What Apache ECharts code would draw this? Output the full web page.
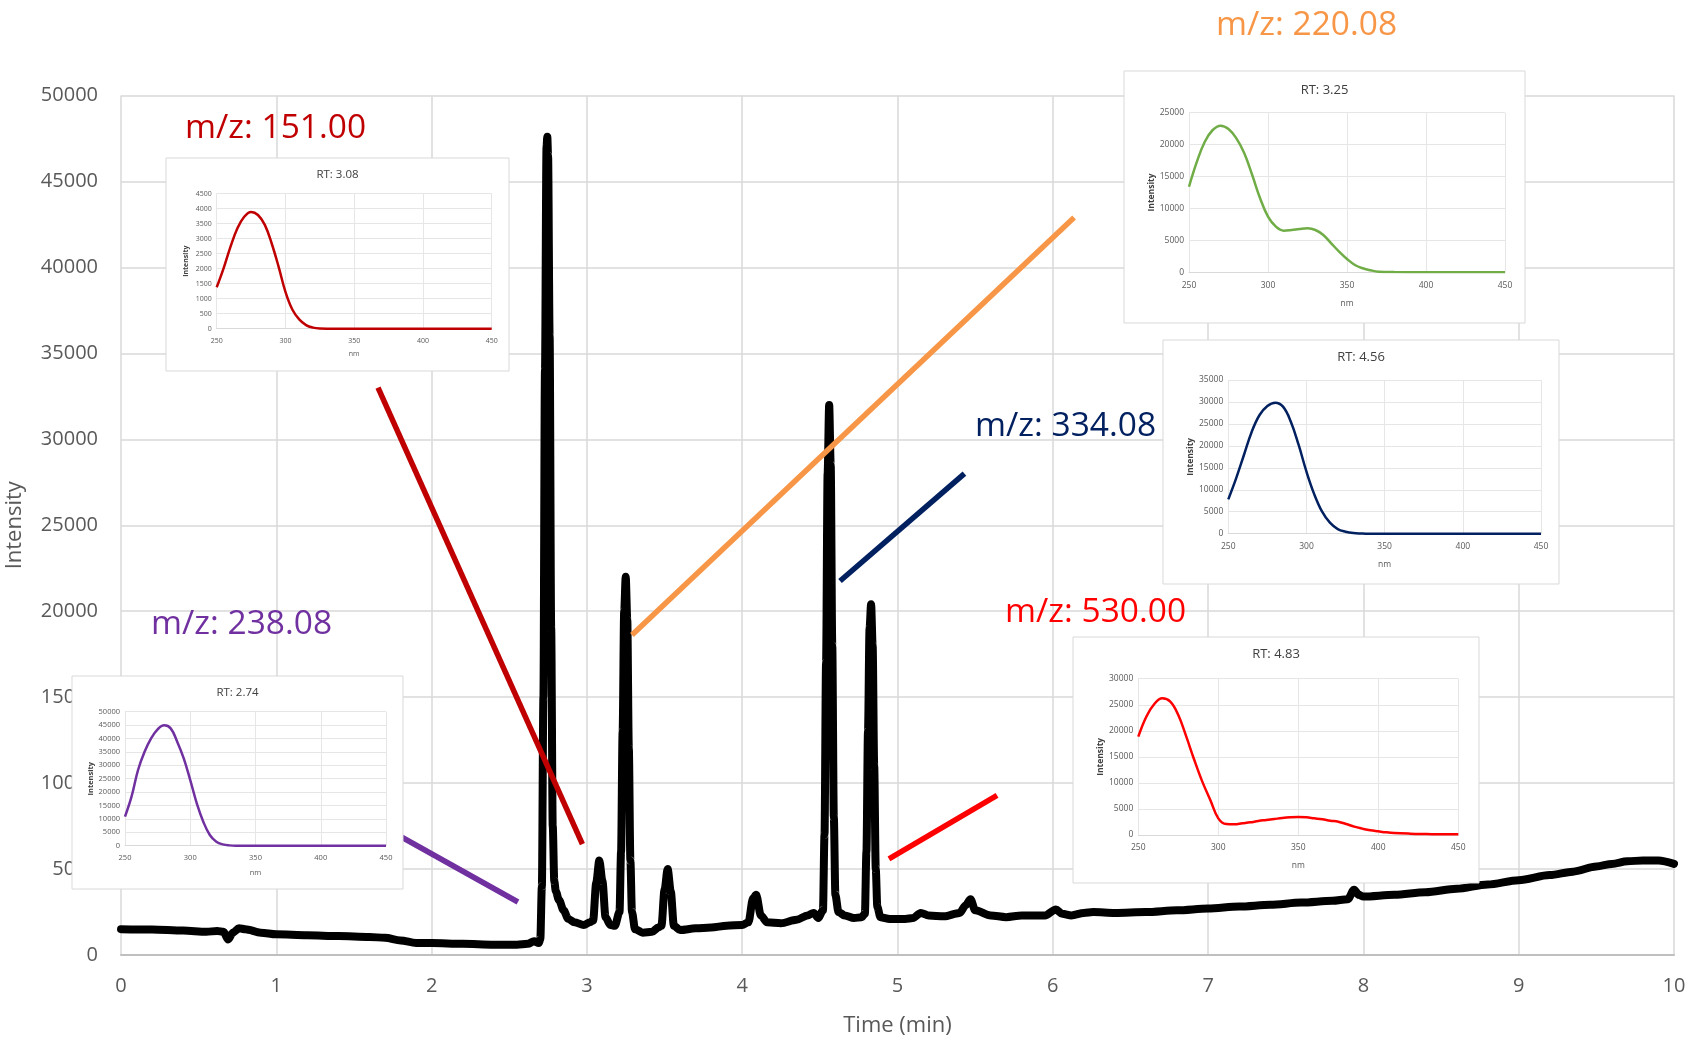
<!DOCTYPE html>
<html>
<head>
<meta charset="utf-8">
<title>LC chromatogram with UV spectra</title>
<script src="https://cdn.jsdelivr.net/npm/echarts@6/dist/echarts.min.js"></script>
<style>
  html, body { margin: 0; padding: 0; background: #ffffff; }
  #chart { width: 1688px; height: 1042px; }
</style>
</head>
<body>
<div id="chart"></div>
<script>
// ---- Chromatogram (total signal vs retention time) ----
const timeMin = [
  0, 0.2, 0.4, 0.55, 0.62, 0.66, 0.69, 0.72, 0.76, 0.8, 0.9, 1.0, 1.2, 1.4, 1.6, 1.7, 1.8, 1.9, 2.0, 2.2, 2.4, 2.55, 2.62, 2.66, 2.69,
  2.70, 2.71, 2.72, 2.73, 2.74, 2.745, 2.75, 2.76, 2.77, 2.78, 2.79, 2.80, 2.82, 2.85, 2.88, 2.92, 2.98, 3.02,
  3.04, 3.06, 3.08, 3.10, 3.12, 3.15, 3.18, 3.21, 3.22, 3.23, 3.24, 3.25, 3.26, 3.27, 3.28, 3.29, 3.31, 3.36, 3.42, 3.46,
  3.48, 3.50, 3.52, 3.54, 3.56, 3.60,
  3.7, 3.8, 3.9, 4.0, 4.04, 4.07, 4.09, 4.12, 4.16, 4.25, 4.35, 4.42, 4.46, 4.49, 4.52, 4.53, 4.54, 4.55, 4.56, 4.57, 4.58, 4.59, 4.60, 4.62, 4.66,
  4.72, 4.77, 4.79, 4.80, 4.81, 4.82, 4.83, 4.84, 4.85, 4.86, 4.87, 4.89, 4.95, 5.05, 5.1, 5.15, 5.2, 5.3, 5.4, 5.44, 5.47, 5.5, 5.6, 5.7, 5.8, 5.95,
  6.02, 6.06, 6.12, 6.2, 6.26, 6.4, 6.6, 6.8, 7.0, 7.2, 7.4, 7.6, 7.8, 7.9, 7.94, 7.97, 8.0, 8.2, 8.4, 8.6, 8.8,
  9.0, 9.2, 9.35, 9.5, 9.6, 9.7, 9.8, 9.9, 10.0
];
const signal = [
  1500, 1480, 1420, 1350, 1400, 1350, 900, 1300, 1550, 1500, 1300, 1200, 1150, 1100, 1050, 1000, 850, 700, 700, 650, 600, 600, 650, 800, 700,
  900, 4000, 15000, 34000, 47000, 47600, 46500, 36000, 19000, 7500, 4300, 3700, 3200, 2600, 2100, 1900, 1750, 1900,
  2000, 4200, 5500, 4300, 2200, 1750, 1700, 2500, 6000, 13000, 20000, 22000, 19500, 12000, 5500, 2500, 1500, 1300, 1350, 1600,
  1700, 3800, 5000, 3700, 1700, 1450,
  1550, 1600, 1700, 1750, 1900, 3300, 3500, 2300, 1900, 1850, 2050, 2300, 2450, 2150, 2600, 7000, 17000, 28000, 32000, 28500, 18000, 8000, 3500, 2500, 2300,
  2150, 2200, 2400, 6000, 13000, 19000, 20400, 18000, 11000, 5000, 2800, 2200, 2100, 2100, 2150, 2450, 2300, 2250, 2450, 2900, 3250, 2600, 2300, 2200, 2300, 2300,
  2650, 2400, 2300, 2450, 2500, 2450, 2500, 2600, 2700, 2820, 2920, 3050, 3150, 3250, 3800, 3500, 3400, 3500, 3650, 3850, 4100,
  4350, 4650, 4850, 5150, 5300, 5450, 5500, 5500, 5300
];
const mainTicksX = { min: 0, max: 10, step: 1 };
const mainTicksY = { min: 0, max: 50000, step: 5000 };

// ---- UV spectra at each peak apex: [wavelength nm, intensity] ----
const spectrumRT274 = [[250,10820],[255,18280],[260,28240],[265,35070],[270,40050],[275,43410],[280,44900],[285,43780],[290,38810],[295,32590],[300,24500],[305,15800],[310,8960],[315,3980],[320,1490],[325,500],[330,120],[335,0],[400,0],[450,0]];
const spectrumRT308 = [[250,1380],[255,2010],[260,2730],[265,3340],[270,3730],[275,3890],[280,3790],[285,3460],[290,2840],[295,2070],[300,1230],[305,640],[310,310],[315,120],[320,35],[325,5],[330,0],[350,0],[400,0],[450,0]];
const spectrumRT325 = [[250,13400],[255,17330],[260,20460],[265,22290],[270,22970],[275,22440],[280,20980],[285,18630],[290,15240],[295,11590],[300,8720],[305,7150],[310,6520],[315,6630],[320,6790],[325,6890],[330,6630],[335,5850],[340,4540],[345,3240],[350,2090],[355,1150],[360,630],[365,310],[370,100],[380,30],[400,0],[450,0]];
const spectrumRT456 = [[250,7820],[255,12600],[260,17920],[265,23230],[270,27030],[275,29080],[280,29840],[285,28930],[290,25510],[295,20200],[300,14120],[305,8960],[310,5010],[315,2510],[320,1060],[325,460],[330,150],[335,50],[340,0],[400,0],[450,0]];
const spectrumRT483 = [[250,18870],[255,22710],[260,25140],[265,26230],[270,25590],[275,23030],[280,18870],[285,14390],[290,10240],[295,6720],[300,3200],[305,2110],[310,2050],[315,2240],[320,2430],[325,2690],[330,2880],[335,3070],[340,3260],[345,3390],[350,3450],[355,3390],[360,3200],[365,3010],[370,2750],[375,2560],[380,2110],[385,1600],[390,1220],[395,900],[400,700],[405,510],[410,380],[420,260],[430,190],[440,130],[450,130]];

const retentionLabels = ['RT: 2.74', 'RT: 3.08', 'RT: 3.25', 'RT: 4.56', 'RT: 4.83'];
const mzLabels = ['m/z: 238.08', 'm/z: 151.00', 'm/z: 220.08', 'm/z: 334.08', 'm/z: 530.00'];
const spectrumMax = [50000, 4500, 25000, 35000, 30000];
const spectrumStep = [5000, 500, 5000, 5000, 5000];

// ---- Layout and styling ----
const colors = ['#7030A0', '#C00000', '#70AD47', '#002060', '#FF0000'];
const calloutColors = ['#7030A0', '#C00000', '#F79646', '#002060', '#FF0000'];
// callout leader lines, endpoints in chart units (min, intensity)
const leaderFrom = [[1.80, 6893], [1.655, 33013], [3.29, 18615], [4.63, 21757], [4.945, 5585]];
const leaderTo   = [[2.556, 3083], [2.971, 6457], [6.137, 42903], [5.431, 27999], [5.641, 9279]];
// inset boxes / plot areas in pixels
const insetBox = [
  { x: 72, y: 676, w: 331, h: 213 },
  { x: 166, y: 158, w: 343, h: 213 },
  { x: 1124, y: 71, w: 401, h: 252 },
  { x: 1163, y: 340, w: 396, h: 244 },
  { x: 1073, y: 637, w: 406, h: 246 }
];
const insetPlot = [
  { left: 125, top: 711.7, width: 261, height: 134 },
  { left: 216.7, top: 193.7, width: 275, height: 135 },
  { left: 1189, top: 112.7, width: 316, height: 159.6 },
  { left: 1228.3, top: 380, width: 312.7, height: 153.7 },
  { left: 1138.3, top: 678.7, width: 320, height: 156.3 }
];
const insetTickFont = [7.5, 7, 8.5, 8.5, 8.5];
const insetTitleFont = [11.5, 11.5, 13, 13, 13];
const mzPos = [[151, 624], [185, 128], [1216, 25], [975, 426], [1005, 612]];

const FONT = "'Open Sans', 'Liberation Sans', sans-serif";
const GRAY = '#595959';
const GRID = '#D9D9D9';

const grids = [{ left: 121, top: 95.5, right: 14, bottom: 87, outerBoundsMode: 'none', z: 0 }];
const xAxes = [{
  type: 'value', gridIndex: 0, min: mainTicksX.min, max: mainTicksX.max, interval: mainTicksX.step,
  name: 'Time (min)', nameLocation: 'middle', nameGap: 60,
  nameTextStyle: { color: GRAY, fontSize: 22, fontFamily: FONT },
  axisLine: { show: true, lineStyle: { color: '#BFBFBF', width: 2 } },
  axisTick: { show: false },
  axisLabel: { color: GRAY, fontSize: 20, fontFamily: FONT, margin: 21 },
  splitLine: { show: true, lineStyle: { color: GRID, width: 1.5 } }
}];
const yAxes = [{
  type: 'value', gridIndex: 0, min: mainTicksY.min, max: mainTicksY.max, interval: mainTicksY.step,
  name: 'Intensity', nameLocation: 'middle', nameGap: 95,
  nameTextStyle: { color: GRAY, fontSize: 22, fontFamily: FONT },
  axisLine: { show: false }, axisTick: { show: false },
  axisLabel: { color: GRAY, fontSize: 20, fontFamily: FONT, margin: 23, formatter: v => String(v) },
  splitLine: { show: true, lineStyle: { color: GRID, width: 1.5 } }
}];
const series = [{
  type: 'line', xAxisIndex: 0, yAxisIndex: 0, z: 3,
  data: timeMin.map((t, i) => [t, signal[i]]),
  showSymbol: false, symbol: 'none', smooth: 0.3, smoothMonotone: 'x',
  lineStyle: { color: '#000000', width: 8, cap: 'round', join: 'round' },
  silent: true
}];

// leader lines from each peak to its m/z label
leaderFrom.forEach((p, i) => {
  series.push({
    type: 'line', xAxisIndex: 0, yAxisIndex: 0, z: 5,
    data: [p, leaderTo[i]], showSymbol: false, symbol: 'none',
    lineStyle: { color: calloutColors[i], width: 5.5, cap: 'butt' }, silent: true
  });
});

const spectra = [spectrumRT274, spectrumRT308, spectrumRT325, spectrumRT456, spectrumRT483];
const graphics = [];
spectra.forEach((spec, i) => {
  const gi = i + 1;
  const fs = insetTickFont[i];
  grids.push(Object.assign({ outerBoundsMode: 'none', z: 20 }, insetPlot[i]));
  xAxes.push({
    type: 'value', gridIndex: gi, min: 250, max: 450, interval: 50, z: 20,
    name: 'nm', nameLocation: 'middle', nameGap: fs * 3.1,
    nameTextStyle: { color: GRAY, fontSize: fs, fontFamily: FONT },
    axisLine: { show: true, lineStyle: { color: GRID, width: 1 } },
    axisTick: { show: false },
    axisLabel: { color: GRAY, fontSize: fs, fontFamily: FONT, margin: 8.5 },
    splitLine: { show: true, lineStyle: { color: '#E6E6E6', width: 1 } }
  });
  yAxes.push({
    type: 'value', gridIndex: gi, min: 0, max: spectrumMax[i], interval: spectrumStep[i], z: 20,
    name: 'Intensity', nameLocation: 'middle', nameGap: fs * 3.9,
    nameTextStyle: { color: '#404040', fontSize: fs, fontFamily: FONT, fontWeight: 'bold' },
    axisLine: { show: false }, axisTick: { show: false },
    axisLabel: { color: GRAY, fontSize: fs, fontFamily: FONT, margin: 5, formatter: v => String(v) },
    splitLine: { show: true, lineStyle: { color: '#E6E6E6', width: 1 } }
  });
  series.push({
    type: 'line', xAxisIndex: gi, yAxisIndex: gi, z: 22,
    data: spec, showSymbol: false, symbol: 'none', smooth: 0.4,
    lineStyle: { color: colors[i], width: 2.5 }, silent: true
  });
  const b = insetBox[i];
  graphics.push({
    type: 'rect', z: 10, silent: true,
    shape: { x: b.x, y: b.y, width: b.w, height: b.h },
    style: { fill: '#ffffff', stroke: '#D9D9D9', lineWidth: 1 }
  });
  graphics.push({
    type: 'text', z: 30, silent: true,
    x: b.x + b.w / 2, y: b.y + (i === 2 ? 19 : 17),
    style: { text: retentionLabels[i], fill: '#404040', font: insetTitleFont[i] + 'px ' + FONT, textAlign: 'center', textVerticalAlign: 'middle' }
  });
  graphics.push({
    type: 'text', z: 30, silent: true,
    x: mzPos[i][0], y: mzPos[i][1],
    style: { text: mzLabels[i], fill: calloutColors[i], font: '33.5px ' + FONT, textAlign: 'left', textVerticalAlign: 'middle' }
  });
});

const chart = echarts.init(document.getElementById('chart'), null, { renderer: 'canvas' });
chart.setOption({
  backgroundColor: '#ffffff',
  animation: false,
  grid: grids,
  xAxis: xAxes,
  yAxis: yAxes,
  series: series,
  graphic: { elements: graphics }
});
</script>
</body>
</html>
